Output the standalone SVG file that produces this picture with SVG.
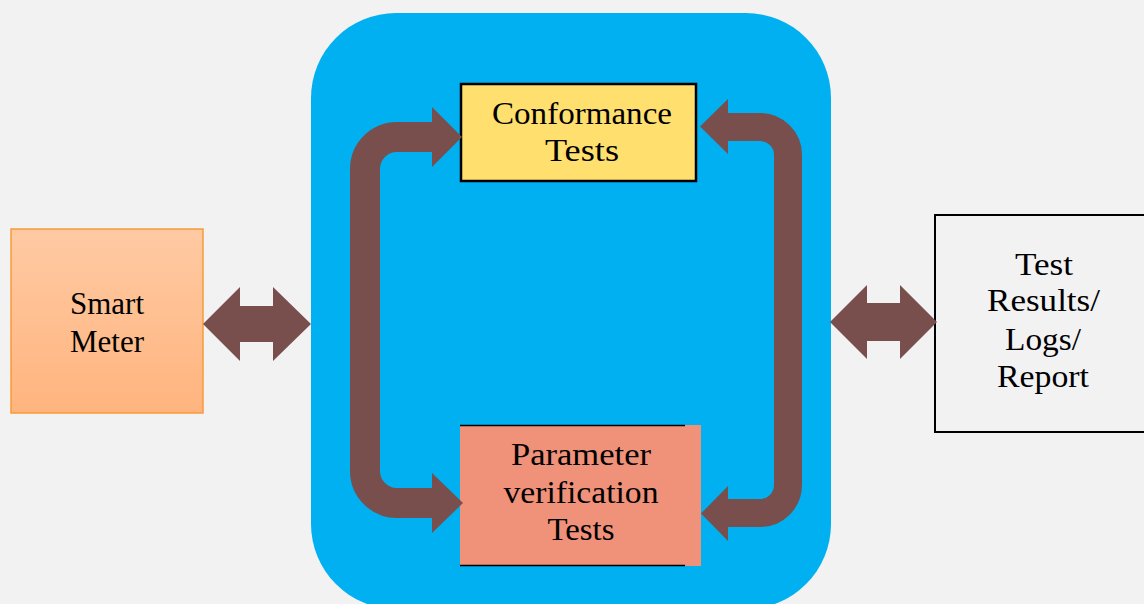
<svg xmlns="http://www.w3.org/2000/svg" width="1144" height="604" viewBox="0 0 1144 604">
<defs>
<linearGradient id="smGrad" x1="0" y1="0" x2="0" y2="1">
<stop offset="0" stop-color="#FFCAA3"/>
<stop offset="1" stop-color="#FFB47E"/>
</linearGradient>
</defs>
<style>
.txt{font-family:"Liberation Serif","Times New Roman",serif;fill:#000;text-anchor:middle}
.shaft{fill:none;stroke:#794F4E;stroke-linejoin:miter}
.head{fill:#794F4E}
</style>
<rect x="0" y="0" width="1144" height="604" fill="#F2F2F2"/>
<g id="test-platform">
<rect x="311" y="13" width="520" height="596" rx="85" ry="85" fill="#00B0F0"/>
</g>
<g id="smart-meter">
<rect x="11" y="229" width="192" height="184" fill="url(#smGrad)" stroke="#F89B3A" stroke-width="1.5"/>
<text class="txt" x="107" y="314" font-size="31">Smart</text>
<text class="txt" x="107" y="352" font-size="31">Meter</text>
</g>
<g id="conformance-tests">
<rect x="461" y="84" width="235" height="97" fill="#FFDF6E" stroke="#000" stroke-width="2.5"/>
<text class="txt" x="582" y="124" font-size="31" textLength="180" lengthAdjust="spacingAndGlyphs">Conformance</text>
<text class="txt" x="582" y="161" font-size="31" textLength="74" lengthAdjust="spacingAndGlyphs">Tests</text>
</g>
<g id="parameter-verification-tests">
<rect x="460" y="425" width="241" height="141" fill="#F0917A"/>
<line x1="460" y1="425.5" x2="685" y2="425.5" stroke="#000" stroke-width="1.5"/>
<line x1="460" y1="565.5" x2="685" y2="565.5" stroke="#000" stroke-width="1.5"/>
<text class="txt" x="581" y="465" font-size="31" textLength="140" lengthAdjust="spacingAndGlyphs">Parameter</text>
<text class="txt" x="581" y="503" font-size="31" textLength="155" lengthAdjust="spacingAndGlyphs">verification</text>
<text class="txt" x="581" y="540" font-size="31" textLength="67" lengthAdjust="spacingAndGlyphs">Tests</text>
</g>
<g id="test-results">
<rect x="935" y="215" width="220" height="217" fill="#F2F2F2" stroke="#000" stroke-width="2"/>
<text class="txt" x="1044" y="275" font-size="31" textLength="58" lengthAdjust="spacingAndGlyphs">Test</text>
<text class="txt" x="1043.5" y="311" font-size="31" textLength="113" lengthAdjust="spacingAndGlyphs">Results/</text>
<text class="txt" x="1043" y="350" font-size="31" textLength="76" lengthAdjust="spacingAndGlyphs">Logs/</text>
<text class="txt" x="1043" y="387" font-size="31" textLength="92" lengthAdjust="spacingAndGlyphs">Report</text>
</g>
<g id="connectors">
<polygon class="head" points="203,324 240,287 240,306 273,306 273,287 311,324 273,361 273,342 240,342 240,361"/>
<polygon class="head" points="830,322 867,285 867,303 900,303 900,285 937,322 900,359 900,341 867,341 867,359"/>
<path class="shaft" stroke-width="30" d="M433,137 H397 A32,32 0 0 0 365,169 V471 A32,32 0 0 0 397,503 H433"/>
<polygon class="head" points="432,107 462,137 432,167"/>
<polygon class="head" points="432,473 463,503 432,533"/>
<path class="shaft" stroke-width="28" d="M727,127 H760 A28,28 0 0 1 788,155 V485 A28,28 0 0 1 760,513 H727"/>
<polygon class="head" points="728,99 700,126.5 728,154"/>
<polygon class="head" points="728,486 701,513.5 728,541"/>
</g>
</svg>
